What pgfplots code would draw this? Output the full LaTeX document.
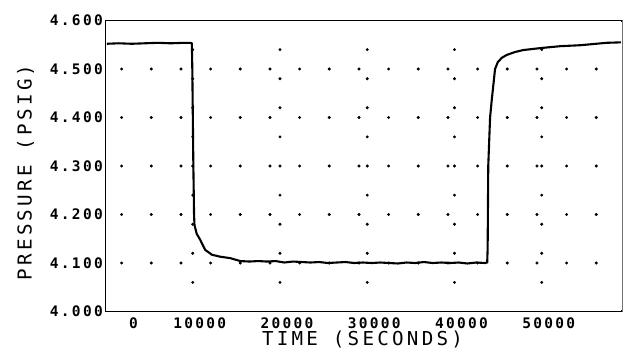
\documentclass[border=0pt]{standalone}
\usepackage{fontspec}
\usepackage{pgfplots}
\pgfplotsset{compat=1.18}
\newfontfamily\labelfont[LetterSpace=17]{DejaVu Sans Mono}
\newfontfamily\tickfont[LetterSpace=16]{DejaVu Sans Mono Bold}
\begin{document}
\begin{tikzpicture}
\begin{axis}[
  at={(0,0)}, anchor=south west,
  scale only axis, width=516.5bp, height=291bp,
  xmin=0, xmax=59200, ymin=4.0, ymax=4.6,
  xtick={0,10000,20000,30000,40000,50000},
  xticklabels={\phantom{0000}0,10000,20000,30000,40000,50000},
  ytick={4.0,4.1,4.2,4.3,4.4,4.5,4.6},
  yticklabels={4.000,4.100,4.200,4.300,4.400,4.500,4.600},
  major tick length=0pt,
  scaled x ticks=false,
  axis line style={line width=1.8bp},
  xticklabel style={font=\tickfont\fontsize{14.5bp}{15bp}\selectfont, anchor=north, inner sep=0pt, yshift=-6.5bp, xshift=7bp},
  yticklabel style={font=\tickfont\fontsize{14.5bp}{15bp}\selectfont, anchor=east, inner sep=0pt, xshift=-2.5bp},
  xlabel={TIME (SECONDS)},
  ylabel={PRESSURE (PSIG)},
  label style={font=\labelfont\fontsize{19.2bp}{20bp}\selectfont, inner sep=0pt},
  xlabel style={at={(axis description cs:0.4976,-0.0962)}, anchor=center},
  ylabel style={at={(axis description cs:-0.1549,0.4777)}, anchor=center, rotate=0},
  clip=false,
]
% row dots
\addplot[only marks, mark=*, mark size=1.3bp, black] coordinates {
(1850,4.1)(5250,4.1)(8650,4.1)(12050,4.1)(15450,4.1)(18850,4.1)(22250,4.1)(25650,4.1)(29050,4.1)(32450,4.1)(35850,4.1)(39250,4.1)(42650,4.1)(46050,4.1)(49450,4.1)(52850,4.1)(56250,4.1)
(1850,4.2)(5250,4.2)(8650,4.2)(12050,4.2)(15450,4.2)(18850,4.2)(22250,4.2)(25650,4.2)(29050,4.2)(32450,4.2)(35850,4.2)(39250,4.2)(42650,4.2)(46050,4.2)(49450,4.2)(52850,4.2)(56250,4.2)
(1850,4.3)(5250,4.3)(8650,4.3)(12050,4.3)(15450,4.3)(18850,4.3)(22250,4.3)(25650,4.3)(29050,4.3)(32450,4.3)(35850,4.3)(39250,4.3)(42650,4.3)(46050,4.3)(49450,4.3)(52850,4.3)(56250,4.3)
(1850,4.4)(5250,4.4)(8650,4.4)(12050,4.4)(15450,4.4)(18850,4.4)(22250,4.4)(25650,4.4)(29050,4.4)(32450,4.4)(35850,4.4)(39250,4.4)(42650,4.4)(46050,4.4)(49450,4.4)(52850,4.4)(56250,4.4)
(1850,4.5)(5250,4.5)(8650,4.5)(12050,4.5)(15450,4.5)(18850,4.5)(22250,4.5)(25650,4.5)(29050,4.5)(32450,4.5)(35850,4.5)(39250,4.5)(42650,4.5)(46050,4.5)(49450,4.5)(52850,4.5)(56250,4.5)
};
% column dots
\addplot[only marks, mark=*, mark size=1.3bp, black] coordinates {
(10000,4.06)(10000,4.12)(10000,4.18)(10000,4.24)(10000,4.30)(10000,4.36)(10000,4.42)(10000,4.48)(10000,4.54)
(20000,4.06)(20000,4.12)(20000,4.18)(20000,4.24)(20000,4.30)(20000,4.36)(20000,4.42)(20000,4.48)(20000,4.54)
(30000,4.06)(30000,4.12)(30000,4.18)(30000,4.24)(30000,4.30)(30000,4.36)(30000,4.42)(30000,4.48)(30000,4.54)
(40000,4.06)(40000,4.12)(40000,4.18)(40000,4.24)(40000,4.30)(40000,4.36)(40000,4.42)(40000,4.48)(40000,4.54)
(50000,4.06)(50000,4.12)(50000,4.18)(50000,4.24)(50000,4.30)(50000,4.36)(50000,4.42)(50000,4.48)(50000,4.54)
};
% pressure trace
\addplot[black, line width=2.1bp, line join=round] coordinates {
(150,4.552)(1500,4.553)(3000,4.552)(4500,4.553)(6000,4.554)(7500,4.553)(9000,4.554)(9700,4.554)(9900,4.553)
(9950,4.50)(10070,4.30)(10150,4.20)(10200,4.178)(10460,4.160)(10850,4.148)(11430,4.127)(12200,4.117)(13150,4.113)(14300,4.110)(15450,4.104)
(16500,4.103)(17500,4.104)(18500,4.103)(19500,4.104)(20500,4.101)(21500,4.103)(22500,4.102)(23500,4.101)(24500,4.102)(25500,4.100)
(26500,4.101)(27500,4.102)(28500,4.100)(29500,4.101)(30500,4.100)(31500,4.101)(32500,4.100)(33500,4.099)(34500,4.101)(35500,4.100)
(36500,4.102)(37500,4.100)(38500,4.101)(39500,4.100)(40500,4.101)(41500,4.099)(42500,4.101)(43500,4.100)(43750,4.101)
(43800,4.13)(43830,4.20)(43870,4.30)(44080,4.40)(44270,4.436)(44650,4.50)(44960,4.514)(45420,4.523)(45990,4.529)(46940,4.535)
(47860,4.539)(49800,4.543)(52100,4.547)(54400,4.549)(57450,4.554)(59150,4.555)
};
\draw[white, line width=2.6bp] (rel axis cs:1,0.005) -- (rel axis cs:1,0.995);
\draw[black!55, line width=0.6bp] (rel axis cs:1,0) -- (rel axis cs:1,1);
\end{axis}
\pgfresetboundingbox
\path[use as bounding box] (-105.5bp,-46.5bp) rectangle (518.5bp,311.5bp);
\end{tikzpicture}
\end{document}
